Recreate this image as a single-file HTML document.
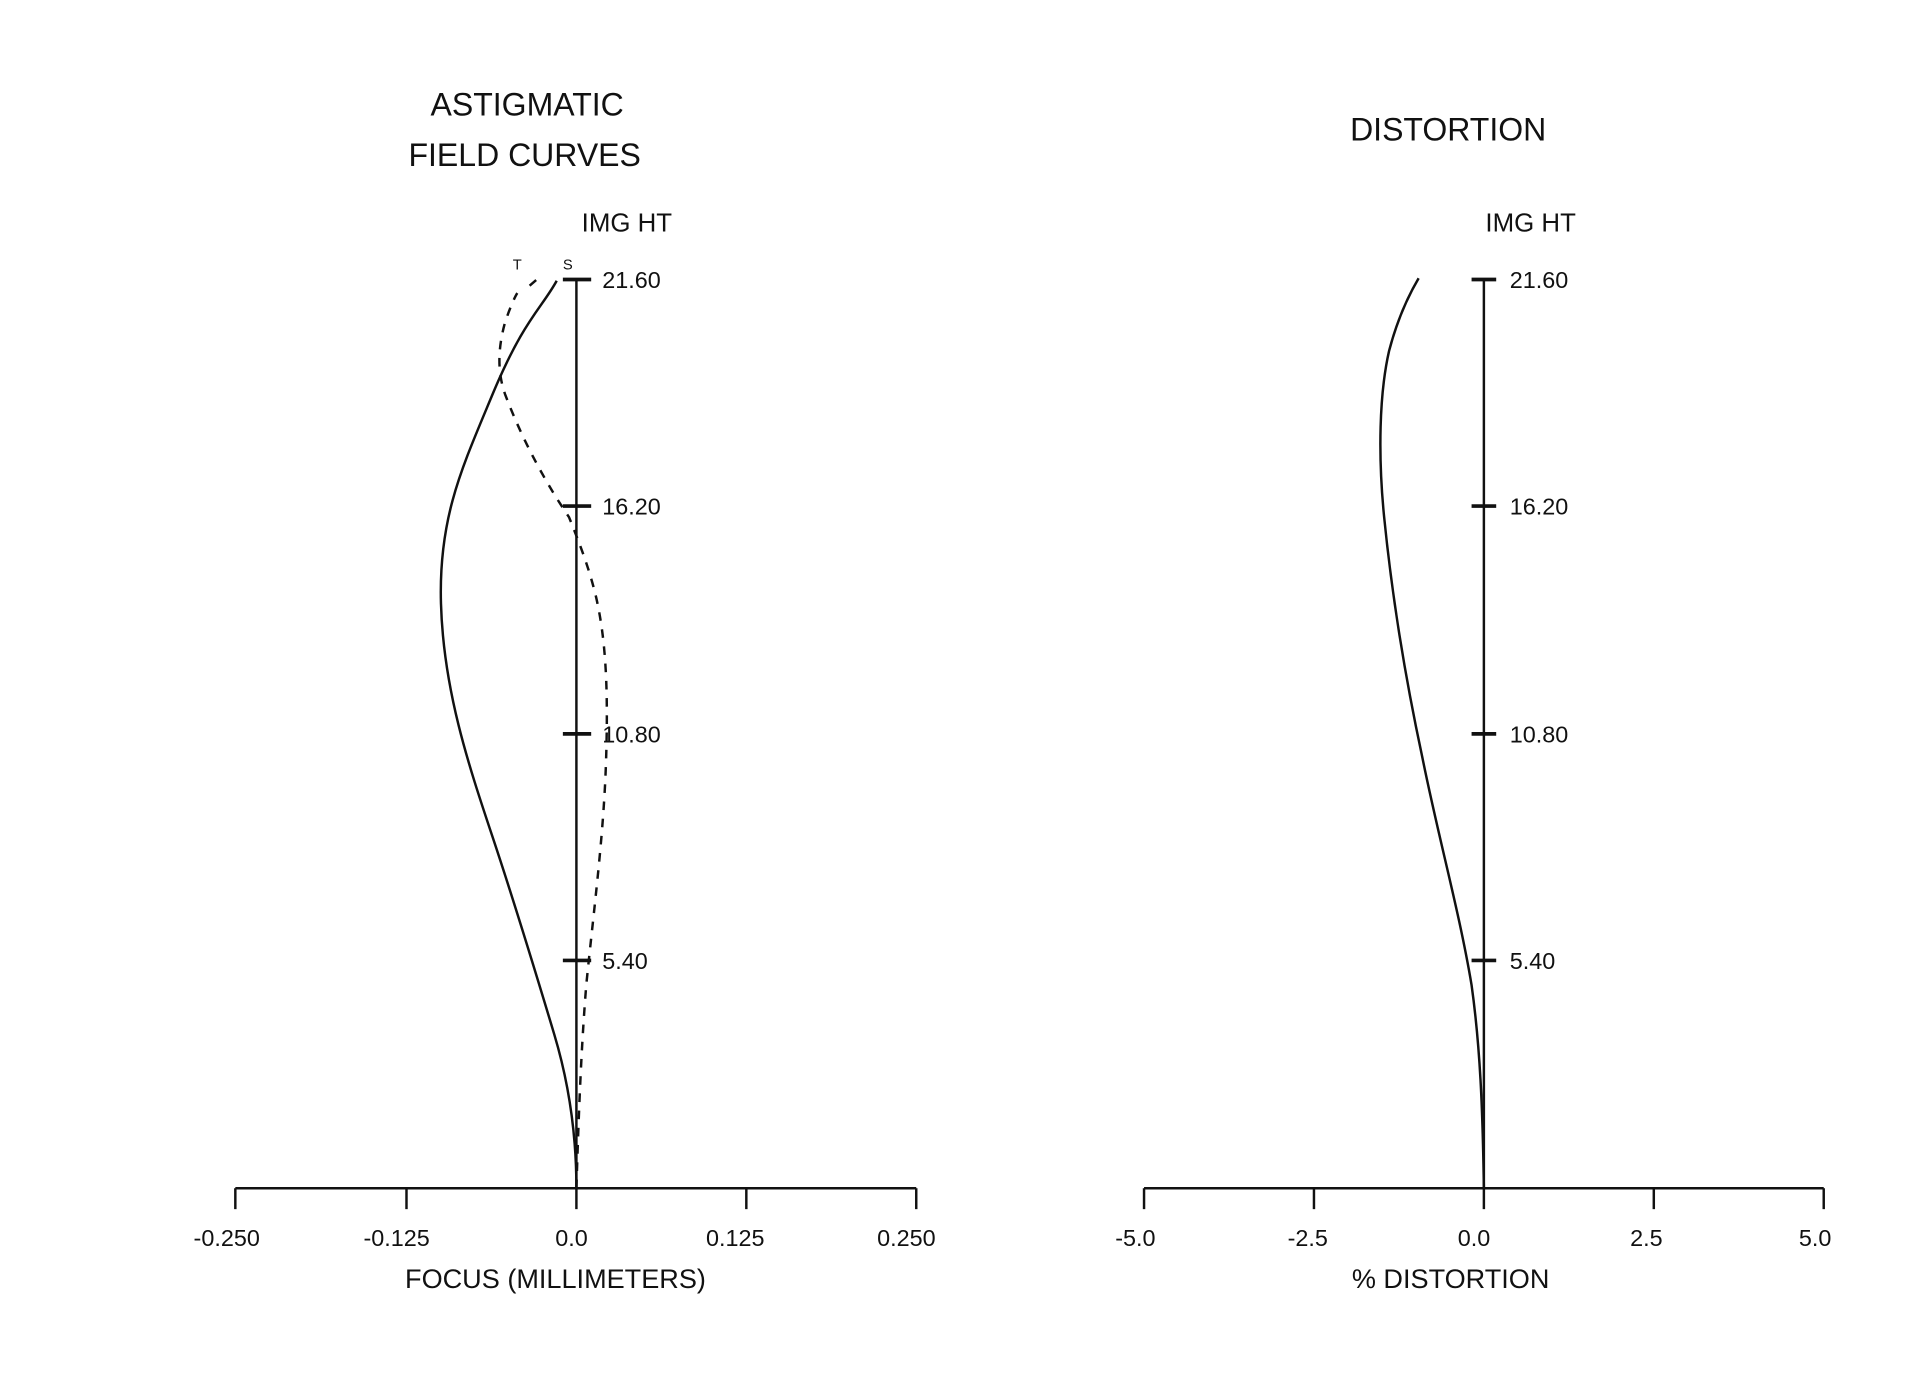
<!DOCTYPE html>
<html><head><meta charset="utf-8"><style>
html,body{margin:0;padding:0;background:#fff;}
svg{display:block;}
text{font-family:"Liberation Sans",sans-serif;fill:#111;}
</style></head><body>
<svg width="1931" height="1400" viewBox="0 0 1568 1137" xmlns="http://www.w3.org/2000/svg">
<rect width="1568" height="1137" fill="#fff"/>
<g stroke="#111" fill="none" stroke-width="2">
<line x1="468" y1="227" x2="468" y2="965"/>
<line x1="191" y1="965" x2="744" y2="965"/>
<line x1="191" y1="965" x2="191" y2="982"/>
<line x1="330" y1="965" x2="330" y2="982"/>
<line x1="468" y1="965" x2="468" y2="982"/>
<line x1="606" y1="965" x2="606" y2="982"/>
<line x1="744" y1="965" x2="744" y2="982"/>
<g stroke-width="3">
<line x1="457" y1="227" x2="480" y2="227"/>
<line x1="457" y1="411" x2="480" y2="411"/>
<line x1="457" y1="596" x2="480" y2="596"/>
<line x1="457" y1="780" x2="480" y2="780"/>
</g>
<line x1="1205" y1="227" x2="1205" y2="965"/>
<line x1="929" y1="965" x2="1481" y2="965"/>
<line x1="929" y1="965" x2="929" y2="982"/>
<line x1="1067" y1="965" x2="1067" y2="982"/>
<line x1="1205" y1="965" x2="1205" y2="982"/>
<line x1="1343" y1="965" x2="1343" y2="982"/>
<line x1="1481" y1="965" x2="1481" y2="982"/>
<g stroke-width="3">
<line x1="1195" y1="227" x2="1215" y2="227"/>
<line x1="1195" y1="411" x2="1215" y2="411"/>
<line x1="1195" y1="596" x2="1215" y2="596"/>
<line x1="1195" y1="780" x2="1215" y2="780"/>
</g>
<path d="M468,965 C468,920 462,880 450,840 S420,740 400,680 S360,560 358,490 S375,380 400,320 S440,250 452,228"/>
<path stroke-dasharray="7,7" d="M468,965 C470,900 472,850 476,800 C482,740 490,680 492,620 C494,560 492,520 484,485 C478,460 470,440 462,420 C445,395 425,360 410,320 C403,300 405,280 410,262 C414,250 418,241 420,238 M430,232 L437,226"/>
<path d="M1205,965 C1204,900 1202,850 1195,800 C1185,740 1168,680 1155,615 C1140,545 1130,480 1124,420 C1119,370 1120,320 1128,285 C1134,262 1142,243 1152,226"/>
</g>
<text x="428" y="94" font-size="26" text-anchor="middle">ASTIGMATIC</text>
<text x="426" y="135" font-size="26" text-anchor="middle">FIELD CURVES</text>
<text x="1176" y="114" font-size="26" text-anchor="middle">DISTORTION</text>
<text x="509" y="188" font-size="21" text-anchor="middle">IMG HT</text>
<text x="1243" y="188" font-size="21" text-anchor="middle">IMG HT</text>
<g font-size="19">
<text x="489" y="234">21.60</text>
<text x="489" y="418">16.20</text>
<text x="489" y="603">10.80</text>
<text x="489" y="787">5.40</text>
<text x="1226" y="234">21.60</text>
<text x="1226" y="418">16.20</text>
<text x="1226" y="603">10.80</text>
<text x="1226" y="787">5.40</text>
</g>
<text x="420" y="219" font-size="12" text-anchor="middle">T</text>
<text x="461" y="219" font-size="12" text-anchor="middle">S</text>
<g font-size="19" text-anchor="middle">
<text x="184" y="1012">-0.250</text>
<text x="322" y="1012">-0.125</text>
<text x="464" y="1012">0.0</text>
<text x="597" y="1012">0.125</text>
<text x="736" y="1012">0.250</text>
<text x="922" y="1012">-5.0</text>
<text x="1062" y="1012">-2.5</text>
<text x="1197" y="1012">0.0</text>
<text x="1337" y="1012">2.5</text>
<text x="1474" y="1012">5.0</text>
</g>
<text x="451" y="1046" font-size="22" text-anchor="middle">FOCUS (MILLIMETERS)</text>
<text x="1178" y="1046" font-size="22" text-anchor="middle">%  DISTORTION</text>
</svg>
</body></html>
